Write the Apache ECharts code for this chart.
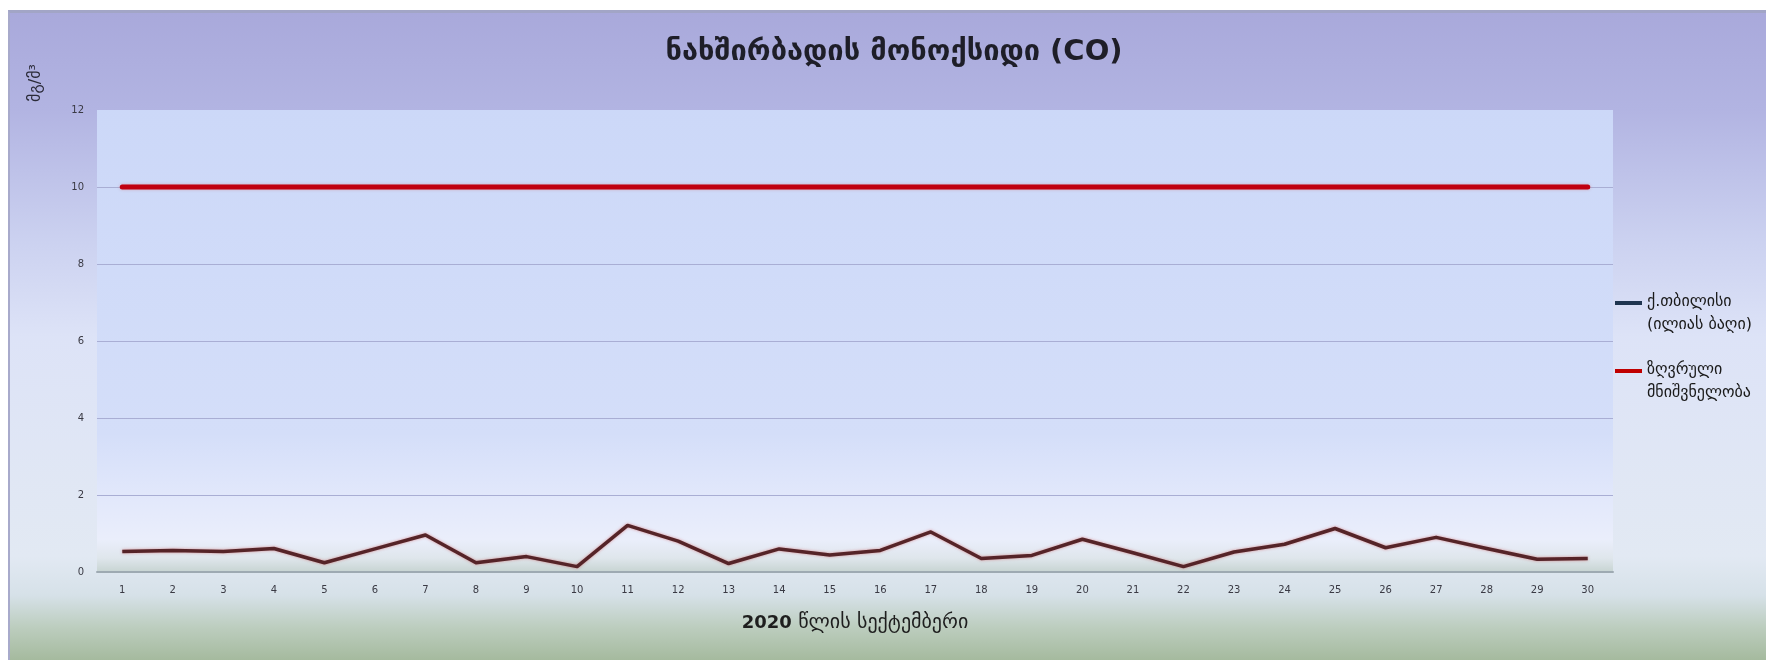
<!DOCTYPE html>
<html>
<head>
<meta charset="utf-8">
<script src="https://cdn.jsdelivr.net/npm/echarts@6/dist/echarts.min.js"></script>
<style>
  html, body { margin: 0; padding: 0; background: #ffffff; }
  #chart {
    position: absolute; left: 8px; top: 10px; width: 1758px; height: 650px;
    box-sizing: border-box;
    border-top: 3px solid #a2a5c6; border-left: 2px solid #a8aacb;
  }
</style>
</head>
<body>
<div id="chart"></div>
<script>
// September 2020, daily CO concentration (mg/m³)
const days = ['1','2','3','4','5','6','7','8','9','10','11','12','13','14','15','16','17','18','19','20','21','22','23','24','25','26','27','28','29','30'];
const tbilisiCO = [0.53, 0.56, 0.53, 0.61, 0.24, 0.60, 0.96, 0.24, 0.40, 0.14,
                   1.21, 0.80, 0.22, 0.60, 0.44, 0.56, 1.04, 0.35, 0.43, 0.85,
                   0.50, 0.14, 0.52, 0.72, 1.13, 0.63, 0.90, 0.61, 0.33, 0.35];
const limitCO = [10, 10, 10, 10, 10, 10, 10, 10, 10, 10,
                 10, 10, 10, 10, 10, 10, 10, 10, 10, 10,
                 10, 10, 10, 10, 10, 10, 10, 10, 10, 10];
const yTicks = [0, 2, 4, 6, 8, 10, 12];

const seriesNames = ['ქ.თბილისი\n(ილიას ბაღი)', 'ზღვრული\nმნიშვნელობა'];
const FONT = "'DejaVu Sans', sans-serif";

// legend marker: a short bar aligned with the first text line of a two-line label
const legendIcon = 'path://M0,0h0.01v0.01h-0.01z M0,9h29v4.5h-29z M0,44.99h0.01v0.01h-0.01z';

const chart = echarts.init(document.getElementById('chart'), null, { renderer: 'canvas' });

chart.setOption({
  animation: false,
  backgroundColor: {
    type: 'linear', x: 0, y: 0, x2: 0, y2: 1,
    colorStops: [
      { offset: 0.00, color: '#a9a9db' },
      { offset: 0.15, color: '#b2b4e2' },
      { offset: 0.35, color: '#cbd1f0' },
      { offset: 0.50, color: '#dde3f7' },
      { offset: 0.84, color: '#e2e9f3' },
      { offset: 0.90, color: '#d6e1e8' },
      { offset: 0.95, color: '#bccdbe' },
      { offset: 1.00, color: '#a5ba9e' }
    ]
  },
  title: {
    text: 'ნახშირბადის მონოქსიდი (CO)',
    left: 879, top: 20, textAlign: 'center',
    textStyle: { fontFamily: FONT, fontSize: 29, fontWeight: 'bold', color: '#1e1e28' }
  },
  graphic: [{
    type: 'text',
    x: 26, y: 70, rotation: Math.PI / 2,
    style: {
      text: 'მგ/მ³', fontFamily: FONT, fontSize: 16,
      fill: '#2a2a38', align: 'center', verticalAlign: 'middle'
    }
  }],
  legend: {
    orient: 'vertical',
    left: 1605, top: 278, padding: 0,
    itemWidth: 27, itemHeight: 45, itemGap: 23,
    icon: legendIcon,
    textStyle: { fontFamily: FONT, fontSize: 16, color: '#1a1a1a', lineHeight: 22.5 },
    data: [
      { name: seriesNames[0], itemStyle: { color: '#1f3550', borderWidth: 0 } },
      { name: seriesNames[1], itemStyle: { color: '#c00000', borderWidth: 0 } }
    ]
  },
  grid: {
    left: 87, top: 97, right: 153, bottom: 88,
    containLabel: false, outerBoundsMode: 'none',
    show: true, borderWidth: 0,
    backgroundColor: {
      type: 'linear', x: 0, y: 0, x2: 0, y2: 1,
      colorStops: [
        { offset: 0.00, color: '#ccd8f8' },
        { offset: 0.70, color: '#d4def9' },
        { offset: 0.84, color: '#e2e8fb' },
        { offset: 0.93, color: '#eaeefb' },
        { offset: 0.97, color: '#dfe6ec' },
        { offset: 1.00, color: '#c7d4d2' }
      ]
    }
  },
  xAxis: {
    type: 'category',
    data: days,
    boundaryGap: true,
    name: '{b|2020} წლის სექტემბერი',
    nameLocation: 'middle',
    nameGap: 41,
    nameTextStyle: {
      fontFamily: FONT, fontSize: 20, color: '#1e1e1e',
      rich: { b: { fontFamily: FONT, fontSize: 18, fontWeight: 'bold', color: '#1e1e1e' } }
    },
    axisLine: { show: true, lineStyle: { color: '#9eaab2', width: 2 } },
    axisTick: { show: false },
    axisLabel: { margin: 13, fontFamily: FONT, fontSize: 10, color: '#3a3a44', interval: 0 },
    splitLine: { show: false }
  },
  yAxis: {
    type: 'value',
    min: yTicks[0], max: yTicks[yTicks.length - 1], interval: 2,
    axisLine: { show: false },
    axisTick: { show: false },
    axisLabel: { margin: 13, fontFamily: FONT, fontSize: 10, color: '#3a3a44' },
    splitLine: {
      show: true,
      lineStyle: {
        width: 1,
        color: ['rgba(0,0,0,0)', '#a9aed4', '#a9aed4', '#a9aed4', '#a9aed4', '#a9aed4', 'rgba(0,0,0,0)']
      }
    }
  },
  series: [
    {
      name: seriesNames[0],
      type: 'line',
      data: tbilisiCO,
      symbol: 'none',
      lineStyle: {
        color: '#552428', width: 3.5, join: 'round',
        shadowColor: 'rgba(200,70,70,0.55)', shadowBlur: 3
      },
      itemStyle: { color: '#552428' },
      z: 3
    },
    {
      name: seriesNames[1],
      type: 'line',
      data: limitCO,
      symbol: 'none',
      lineStyle: {
        color: '#c00010', width: 5, cap: 'round',
        shadowColor: 'rgba(210,90,90,0.45)', shadowBlur: 3
      },
      itemStyle: { color: '#c00010' },
      z: 2
    }
  ]
});
</script>
</body>
</html>
